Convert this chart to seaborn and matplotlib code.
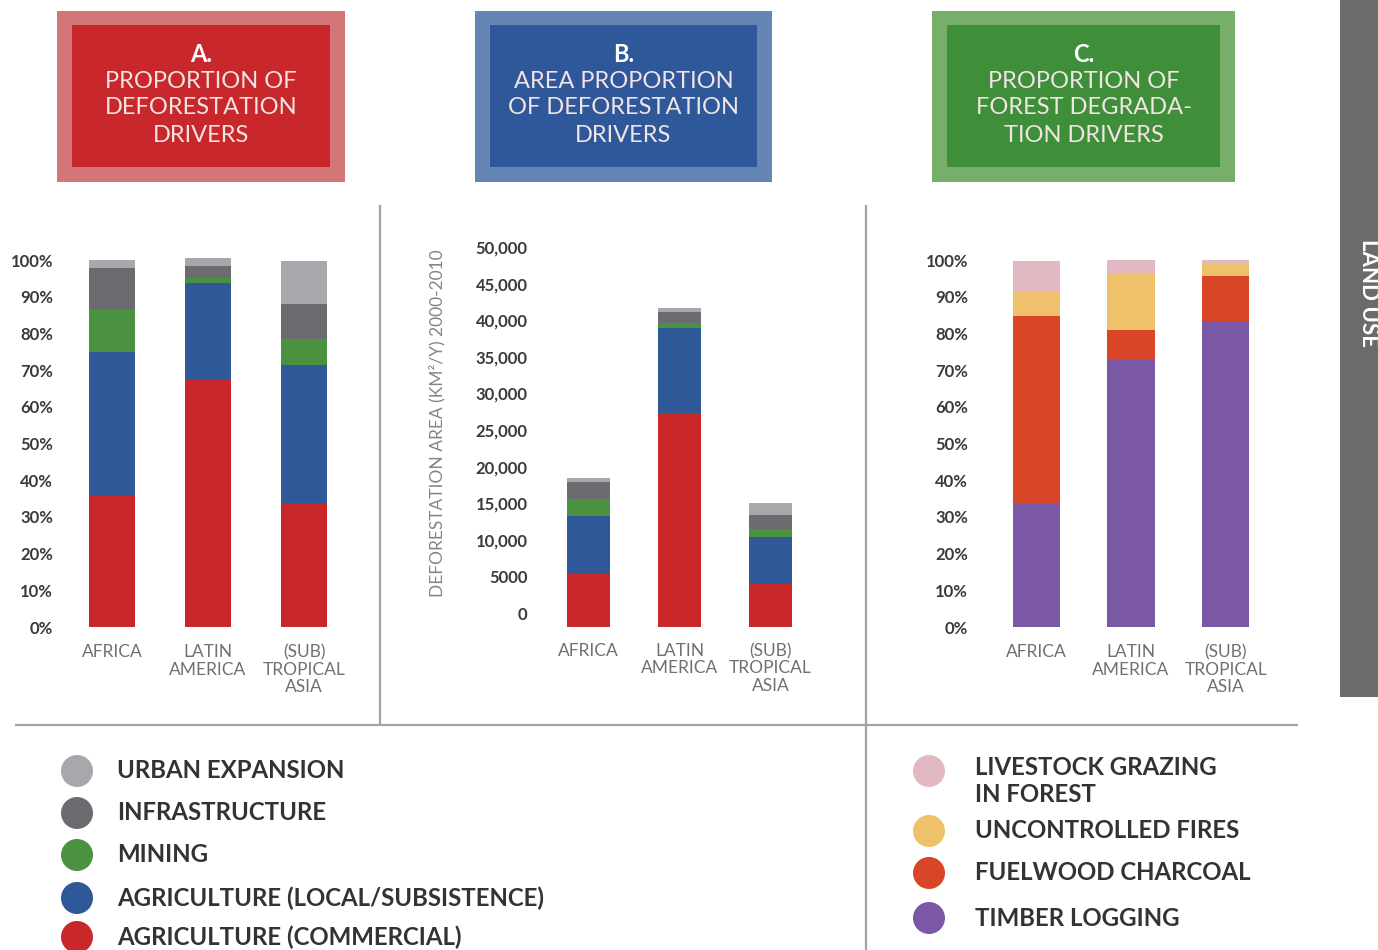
import matplotlib
matplotlib.use('Agg')
import matplotlib.pyplot as plt
import matplotlib.transforms as mtransforms
from matplotlib.patches import Rectangle, Circle
import seaborn as sns
import numpy as np

# Data
regions = ['AFRICA', 'LATIN\nAMERICA', '(SUB)\nTROPICAL\nASIA']

# A. proportion of deforestation drivers (%), bottom segment first
a_commercial = [35.7, 67.5, 33.7]
a_local = [39.3, 26.3, 37.7]
a_mining = [11.8, 1.5, 7.2]
a_infra = [11.0, 3.1, 9.4]
a_urban = [2.2, 2.3, 11.7]

# B. deforestation area (km2/y) 2000-2010
b_commercial = [7300, 29300, 5900]
b_local = [7800, 11500, 6400]
b_mining = [2400, 700, 1100]
b_infra = [2300, 1600, 1900]
b_urban = [600, 500, 1700]

# C. proportion of forest degradation drivers (%)
c_timber = [33.6, 72.9, 83.4]
c_fuelwood = [51.3, 8.0, 12.4]
c_fires = [6.6, 15.4, 3.1]
c_livestock = [8.3, 3.9, 1.1]

deforest_labels = ['URBAN EXPANSION', 'INFRASTRUCTURE', 'MINING',
                   'AGRICULTURE (LOCAL/SUBSISTENCE)', 'AGRICULTURE (COMMERCIAL)']
degrad_labels = ['LIVESTOCK GRAZING\nIN FOREST', 'UNCONTROLLED FIRES',
                 'FUELWOOD CHARCOAL', 'TIMBER LOGGING']

pct_ticks = list(range(0, 101, 10))
area_ticks = list(range(0, 50001, 5000))

# colours
c_urban, c_infra, c_min, c_loc, c_com = '#a7a8ab', '#6b6c6f', '#4a9140', '#2e5897', '#c8282a'
c_live, c_fire, c_fuel, c_timb = '#e2b9c3', '#efc16a', '#d84527', '#7b58a5'

sns.set_style('white')
plt.rcParams['font.family'] = ['Lato', 'DejaVu Sans']

W, H = 1378, 950
fig = plt.figure(figsize=(W / 100, H / 100), dpi=100)

# background layer in pixel coordinates
bg = fig.add_axes([0, 0, 1, 1])
bg.set_xlim(0, W)
bg.set_ylim(H, 0)
bg.axis('off')


def px_axes(x0, y0, x1, y1):
    ax = fig.add_axes([x0 / W, 1 - y1 / H, (x1 - x0) / W, (y1 - y0) / H])
    ax.patch.set_alpha(0)
    return ax


def stacked(ax, layers, colors, width):
    cum = np.cumsum(np.array(layers, dtype=float), axis=0)
    # draw tallest first so each lower segment sits on top of it
    for vals, col in reversed(list(zip(cum, colors))):
        sns.barplot(x=regions, y=vals, color=col, width=width, saturation=1,
                    errorbar=None, linewidth=0, ax=ax)
    ax.set_xlabel('')
    ax.set_ylabel('')
    sns.despine(ax=ax, left=True, bottom=True)
    ax.tick_params(length=0)
    ax.set_xlim(-0.5, 2.5)


def style_ticks(ax, ypad, xpad):
    for t in ax.get_yticklabels():
        t.set_fontsize(12)
        t.set_fontweight('bold')
        t.set_color('#3a3a3a')
    for t in ax.get_xticklabels():
        t.set_fontsize(12.5)
        t.set_fontweight('normal')
        t.set_color('#707070')
        t.set_linespacing(1.1)
    ax.tick_params(axis='y', pad=ypad)
    ax.tick_params(axis='x', pad=xpad)


# Panel A
axA = px_axes(64, 627 - 105 * 3.667, 352, 627)
stacked(axA, [a_commercial, a_local, a_mining, a_infra, a_urban],
        [c_com, c_loc, c_min, c_infra, c_urban], 0.48)
axA.set_ylim(0, 105)
axA.set_yticks(pct_ticks)
axA.set_yticklabels([f'{v}%' for v in pct_ticks])
style_ticks(axA, 8, 12.5)

# Panel B
axB = px_axes(543, 627 - 52 * 7.32, 816, 627)
stacked(axB, [b_commercial, b_local, b_mining, b_infra, b_urban],
        [c_com, c_loc, c_min, c_infra, c_urban], 0.48)
axB.set_ylim(0, 52000)
axB.set_yticks(area_ticks)
axB.set_yticklabels([f'{v:,}' if v >= 10000 else str(v) for v in area_ticks])
style_ticks(axB, 11, 11.5)
shift = mtransforms.ScaledTranslation(0, 0.14, fig.dpi_scale_trans)
for t in axB.get_yticklabels():
    t.set_transform(t.get_transform() + shift)
bg.text(437, 423, 'DEFORESTATION AREA (KM²/Y) 2000-2010', rotation=90,
        ha='center', va='center', fontsize=12.5, fontweight='normal', color='#858585')

# Panel C
axC = px_axes(989, 627 - 105 * 3.667, 1273, 627)
stacked(axC, [c_timber, c_fuelwood, c_fires, c_livestock],
        [c_timb, c_fuel, c_fire, c_live], 0.5)
axC.set_ylim(0, 105)
axC.set_yticks(pct_ticks)
axC.set_yticklabels([f'{v}%' for v in pct_ticks])
style_ticks(axC, 15, 12.5)

# header boxes
headers = [
    (57, 345, '#d47678', '#c8282b', 'A.', ['PROPORTION OF', 'DEFORESTATION', 'DRIVERS']),
    (475, 772, '#6585b5', '#2e589a', 'B.', ['AREA PROPORTION', 'OF DEFORESTATION', 'DRIVERS']),
    (932, 1235, '#77ae6a', '#3f8f3a', 'C.', ['PROPORTION OF', 'FOREST DEGRADA-', 'TION DRIVERS']),
]
for x0, x1, outer, inner, letter, lines in headers:
    bg.add_patch(Rectangle((x0, 11), x1 - x0, 171, color=outer, lw=0))
    bg.add_patch(Rectangle((x0 + 15, 25), x1 - x0 - 30, 142, color=inner, lw=0))
    cx = (x0 + x1) / 2
    bg.text(cx, 55, letter, ha='center', va='center', fontsize=17,
            fontweight='bold', color='white')
    for i, line in enumerate(lines):
        bg.text(cx, 81 + i * 27, line, ha='center', va='center', fontsize=17,
                fontweight='normal', color='#f3e4e4')

# divider lines
line_kw = dict(color='#a3a3a3', lw=1.6, solid_capstyle='butt')
bg.plot([380, 380], [205, 725], **line_kw)
bg.plot([866, 866], [205, 950], **line_kw)
bg.plot([15, 1298], [725, 725], **line_kw)

# right side tab
bg.add_patch(Rectangle((1340, 0), 38, 697, color='#6b6b6d', lw=0))
bg.text(1368, 293, 'LAND USE', rotation=-90, ha='center', va='center',
        fontsize=16, fontweight='bold', color='white')

# legends
left_cols = [c_urban, c_infra, c_min, c_loc, c_com]
left_y = [771, 813, 855, 898, 937]
for lab, col, y in zip(deforest_labels, left_cols, left_y):
    bg.add_patch(Circle((77, y), 16, color=col, lw=0))
    bg.text(117, y, lab, ha='left', va='center', fontsize=17.3,
            fontweight='bold', color='#333333')

right_cols = [c_live, c_fire, c_fuel, c_timb]
right_circ = [771, 831, 873, 918]
right_text = [781, 830, 872, 918]
for lab, col, yc, yt in zip(degrad_labels, right_cols, right_circ, right_text):
    bg.add_patch(Circle((929, yc), 16, color=col, lw=0))
    bg.text(975, yt, lab, ha='left', va='center', fontsize=17.3,
            fontweight='bold', color='#333333', linespacing=1.2)

fig.savefig('out.png', dpi=100)
